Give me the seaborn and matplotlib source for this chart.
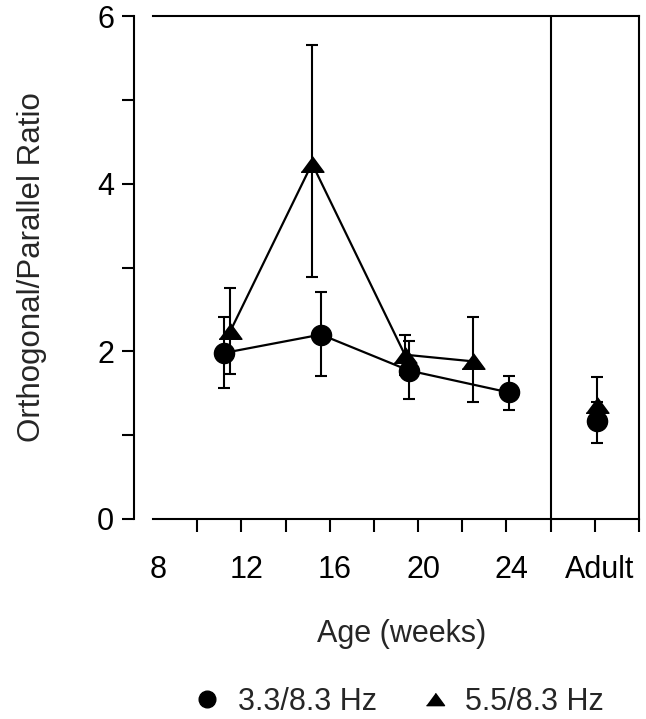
import numpy as np
import pandas as pd
import seaborn as sns
import matplotlib.pyplot as plt
from matplotlib.lines import Line2D
from matplotlib.transforms import ScaledTranslation

# values
age_33 = [11.2, 15.6, 19.6, 24.1, 28.1]
ratio_33 = [1.98, 2.20, 1.77, 1.51, 1.17]
lo_33 = [1.56, 1.71, 1.43, 1.30, 0.91]
hi_33 = [2.41, 2.71, 2.12, 1.71, 1.40]

age_55 = [11.5, 15.2, 19.4, 22.5, 28.1]
ratio_55 = [2.24, 4.24, 1.96, 1.88, 1.36]
lo_55 = [1.73, 2.89, 1.72, 1.39, 1.10]
hi_55 = [2.75, 5.65, 2.20, 2.41, 1.69]

adult_x = 28.1
divider_x = 26
xtick_pos = [8, 10, 12, 14, 16, 18, 20, 22, 24, 26, 28, 30]
xtick_lab = ['8', '', '12', '', '16', '', '20', '', '24', '', 'Adult', '']
ytick_pos = [0, 1, 2, 3, 4, 5, 6]
ytick_lab = ['0', '', '2', '', '4', '', '6']
labels = ['3.3/8.3 Hz', '5.5/8.3 Hz']

df = pd.concat([
    pd.DataFrame({'age': age_33, 'ratio': ratio_33, 'lo': lo_33, 'hi': hi_33, 'cond': labels[0]}),
    pd.DataFrame({'age': age_55, 'ratio': ratio_55, 'lo': lo_55, 'hi': hi_55, 'cond': labels[1]}),
], ignore_index=True)
df['adult'] = df['age'] == adult_x

sns.set_style('ticks')
plt.rcParams['font.family'] = ['Liberation Sans', 'DejaVu Sans']

tri = [(-1, -0.68), (1, -0.68), (0, 0.68)]
markers = {labels[0]: 'o', labels[1]: tri}
msize = {labels[0]: 14.5, labels[1]: 16.5}

fig = plt.figure(figsize=(6.46, 7.19), dpi=100)
ax = fig.add_axes([0.2368, 0.2782, 0.7524, 0.6995])

juv = df[~df['adult']]
sns.lineplot(data=juv, x='age', y='ratio', units='cond', estimator=None,
             color='black', linewidth=1.6, ax=ax, legend=False, sort=False)

for cond, g in df.groupby('cond'):
    ax.errorbar(g['age'], g['ratio'],
                yerr=[g['ratio'] - g['lo'], g['hi'] - g['ratio']],
                fmt='none', ecolor='black', elinewidth=1.5, capsize=4, capthick=1.5, zorder=3)
    ax.plot(g['age'], g['ratio'], linestyle='none', marker=markers[cond],
            markersize=msize[cond], color='black', zorder=4)

ax.axvline(divider_x, color='black', linewidth=1.5)

ax.set_xlim(8, 30)
ax.set_ylim(0, 6)
ax.set_xticks(xtick_pos)
ax.set_xticklabels(xtick_lab)
ax.set_yticks(ytick_pos)
ax.set_yticklabels(ytick_lab)
ax.xaxis.get_major_ticks()[0].tick1line.set_visible(False)

for s in ax.spines.values():
    s.set_linewidth(1.5)
    s.set_color('black')
ax.spines['left'].set_position(('outward', 14))

ax.tick_params(axis='both', direction='out', length=9, width=1.5, colors='black', labelsize=22)
ax.tick_params(axis='x', pad=17)
ax.tick_params(axis='y', pad=5)

# the scanned labels sit a little right of their ticks
shift = ScaledTranslation(5 / 100, 0, fig.dpi_scale_trans)
for lab in ax.get_xticklabels():
    lab.set_transform(lab.get_transform() + shift)

ax.set_xlabel('Age (weeks)', fontsize=22)
ax.set_ylabel('Orthogonal/Parallel Ratio', fontsize=22.5)
ax.xaxis.set_label_coords(0.512, -0.198)
ax.yaxis.set_label_coords(-0.218, 0.5)

handles = [
    Line2D([], [], linestyle='none', marker='o', color='black', markersize=12),
    Line2D([], [], linestyle='none', marker=tri, color='black', markersize=13),
]
fig.legend(handles, labels, loc='center', bbox_to_anchor=(398 / 646, 1 - 702 / 719),
           ncol=2, frameon=False, fontsize=22, handlelength=1.0, handletextpad=0.5,
           columnspacing=1.4, borderpad=0, borderaxespad=0)

fig.savefig('out.png', dpi=100)
